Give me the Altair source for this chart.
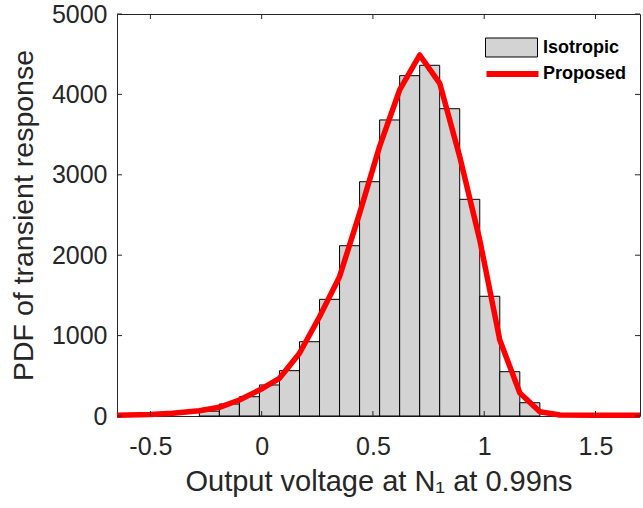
import altair as alt
import pandas as pd

# Histogram (Isotropic)
bin_left = [-0.28, -0.19, -0.10, -0.01, 0.08, 0.17, 0.26, 0.35, 0.44, 0.53,
            0.62, 0.71, 0.80, 0.89, 0.98, 1.07, 1.16]
bin_width = 0.09
bin_count = [60, 149, 240, 386, 564, 924, 1451, 2118, 2914, 3682,
             4233, 4362, 3822, 2695, 1489, 551, 165]

# Proposed PDF curve
curve_x = [-0.65, -0.5, -0.4, -0.28, -0.19, -0.10, -0.01, 0.08, 0.17, 0.26,
           0.35, 0.44, 0.53, 0.62, 0.71, 0.80, 0.89, 0.98, 1.07, 1.16,
           1.25, 1.34, 1.5, 1.7]
curve_y = [10, 20, 33, 66, 108, 199, 323, 469, 780, 1235,
           1733, 2521, 3354, 4055, 4490, 4138, 3225, 2189, 945, 285,
           53, 12, 10, 10]

x_ticks = [-0.5, 0, 0.5, 1, 1.5]
y_ticks = [0, 1000, 2000, 3000, 4000, 5000]

W, H = 523, 402
FONT = "Liberation Sans"
AX = "#262626"

bars = pd.DataFrame({
    "x": bin_left,
    "x2": [b + bin_width for b in bin_left],
    "y": bin_count,
    "s": ["Isotropic"] * len(bin_left),
})
curve = pd.DataFrame({"x": curve_x, "y": curve_y, "s": ["Proposed"] * len(curve_x)})
xt = pd.DataFrame({"x": x_ticks})
yt = pd.DataFrame({"y": y_ticks})

xscale = alt.Scale(domain=[-0.65, 1.7], nice=False, zero=False)
yscale = alt.Scale(domain=[0, 5000], nice=False)

xaxis = alt.Axis(values=x_ticks, ticks=False, domain=False, grid=False,
                 labelExpr="datum.value + ''",
                 labelFontSize=25, labelColor=AX, labelFont=FONT, labelPadding=18,
                 title="Output voltage at N\u2081 at 0.99ns", titleFontSize=29,
                 titleFont=FONT, titleColor=AX, titleFontWeight="normal",
                 titlePadding=8)
yaxis = alt.Axis(values=y_ticks, ticks=False, domain=False, grid=False,
                 labelExpr="datum.value + ''",
                 labelFontSize=25, labelColor=AX, labelFont=FONT, labelPadding=10,
                 title="PDF of transient response", titleFontSize=28.5,
                 titleFont=FONT, titleColor=AX, titleFontWeight="normal",
                 titlePadding=13)

hist = alt.Chart(bars).mark_rect(stroke="black", strokeWidth=1).encode(
    x=alt.X("x:Q", scale=xscale, axis=xaxis),
    x2="x2:Q",
    y=alt.Y("y:Q", scale=yscale, axis=yaxis),
    y2=alt.datum(0),
    fill=alt.Fill("s:N", scale=alt.Scale(domain=["Isotropic"], range=["#d3d3d3"]),
                  legend=alt.Legend(orient="none", legendX=368, legendY=7,
                                    title=None, symbolType="M-1,-0.365H1V0.365H-1Z",
                                    symbolSize=2704, symbolStrokeColor="black",
                                    symbolStrokeWidth=1, symbolOpacity=1,
                                    labelFont=FONT, labelFontSize=18,
                                    labelFontWeight="bold", labelColor="black",
                                    labelOffset=5, padding=0)),
)

line = alt.Chart(curve).mark_line(strokeWidth=5.5, strokeJoin="round").encode(
    x=alt.X("x:Q", scale=xscale),
    y=alt.Y("y:Q", scale=yscale),
    stroke=alt.Stroke("s:N", scale=alt.Scale(domain=["Proposed"], range=["#ff0000"]),
                      legend=alt.Legend(orient="none", legendX=366.5, legendY=31,
                                        title=None, symbolType="stroke",
                                        symbolSize=2704, symbolStrokeWidth=6,
                                        labelFont=FONT, labelFontSize=18,
                                        labelFontWeight="bold", labelColor="black",
                                        labelOffset=1.5, padding=0)),
)

tick_len = 5
xb = alt.Chart(xt).mark_rule(color=AX, strokeWidth=1).encode(
    x=alt.X("x:Q", scale=xscale), y=alt.value(H), y2=alt.value(H - tick_len))
xtp = alt.Chart(xt).mark_rule(color=AX, strokeWidth=1).encode(
    x=alt.X("x:Q", scale=xscale), y=alt.value(0), y2=alt.value(tick_len))
yl = alt.Chart(yt).mark_rule(color=AX, strokeWidth=1).encode(
    y=alt.Y("y:Q", scale=yscale), x=alt.value(0), x2=alt.value(tick_len))
yr = alt.Chart(yt).mark_rule(color=AX, strokeWidth=1).encode(
    y=alt.Y("y:Q", scale=yscale), x=alt.value(W), x2=alt.value(W - tick_len))

chart = alt.layer(hist, line, xb, xtp, yl, yr).properties(
    width=W, height=H,
    autosize=alt.AutoSizeParams(type="none"),
    padding={"left": 117, "top": 14, "right": 3, "bottom": 92},
    background="white",
).configure_view(stroke=AX, strokeWidth=1)

chart.save("out.html", embed_options={"renderer": "svg", "actions": False})
